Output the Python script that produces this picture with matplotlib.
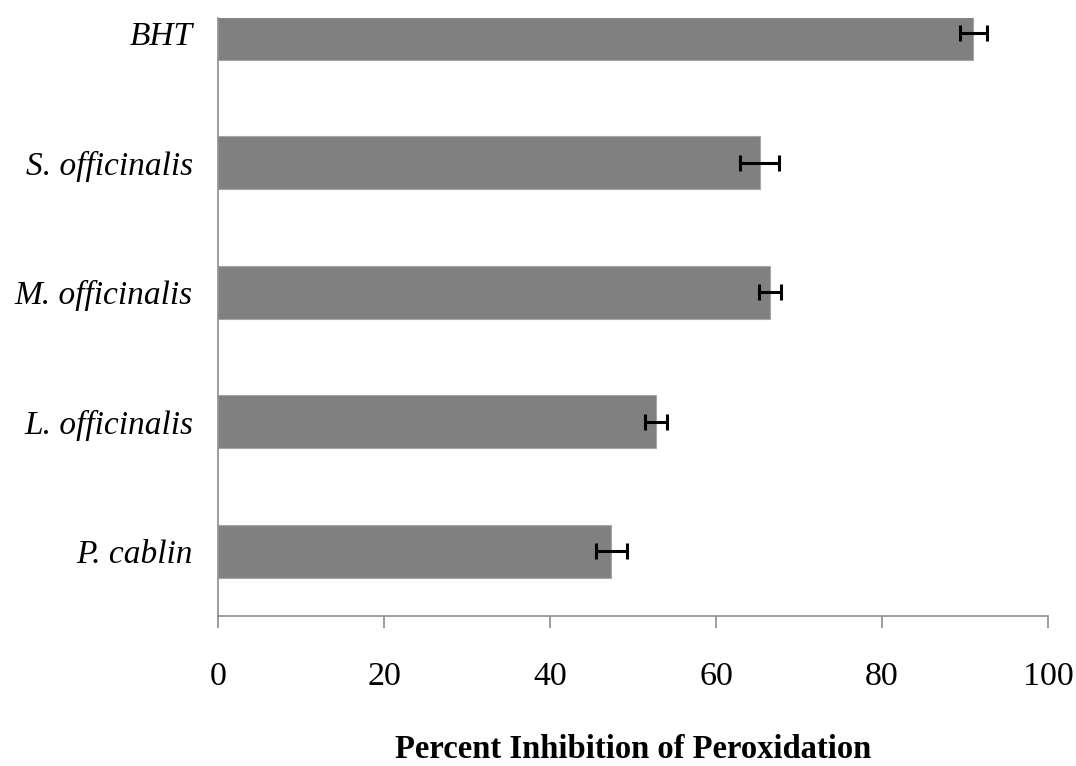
import matplotlib
matplotlib.use("Agg")
import matplotlib.pyplot as plt

# values (bottom to top)
species = ["P. cablin", "L. officinalis", "M. officinalis", "S. officinalis", "BHT"]
inhibition = [47.4, 52.8, 66.5, 65.3, 91.0]
err = [1.9, 1.3, 1.3, 2.35, 1.65]
xticks = [0, 20, 40, 60, 80, 100]

SERIF = ["Liberation Serif", "DejaVu Serif"]
BAR = "#808080"
AXIS = "#8c8c8c"

fig = plt.figure(figsize=(10.76, 7.66), dpi=100)
ax = fig.add_axes([218 / 1076, 1 - 616 / 766, (1048 - 218) / 1076, (616 - 18) / 766])

y = range(len(species))
ax.barh(y, inhibition, height=0.41, color=BAR, edgecolor="#a6a6a6", linewidth=0.8,
        zorder=2)
ax.errorbar(inhibition, y, xerr=err, fmt="none", ecolor="black", elinewidth=2.2,
            capsize=6, capthick=2.2, zorder=3)

ax.set_xlim(0, 100)
ax.set_ylim(-0.5, 4.116)
ax.set_xticks(xticks)
ax.set_xticklabels([str(t) for t in xticks], family=SERIF, fontsize=24.5)
ax.set_yticks(list(y))
ax.set_yticklabels(species, family=SERIF, fontsize=24, style="italic")
ax.tick_params(axis="x", direction="out", length=8.6, width=1.2, color=AXIS, pad=24)
ax.tick_params(axis="y", length=0, pad=18)
for sp in ("top", "right"):
    ax.spines[sp].set_visible(False)
for sp in ("left", "bottom"):
    ax.spines[sp].set_color(AXIS)
    ax.spines[sp].set_linewidth(1.2)

# axis title right at the bottom edge, as in the source image
fig.text(633 / 1076, 0.5 / 766, "Percent Inhibition of Peroxidation",
         family=SERIF, fontsize=23.5, fontweight="bold", ha="center", va="bottom")

fig.savefig("out.png", dpi=100)
